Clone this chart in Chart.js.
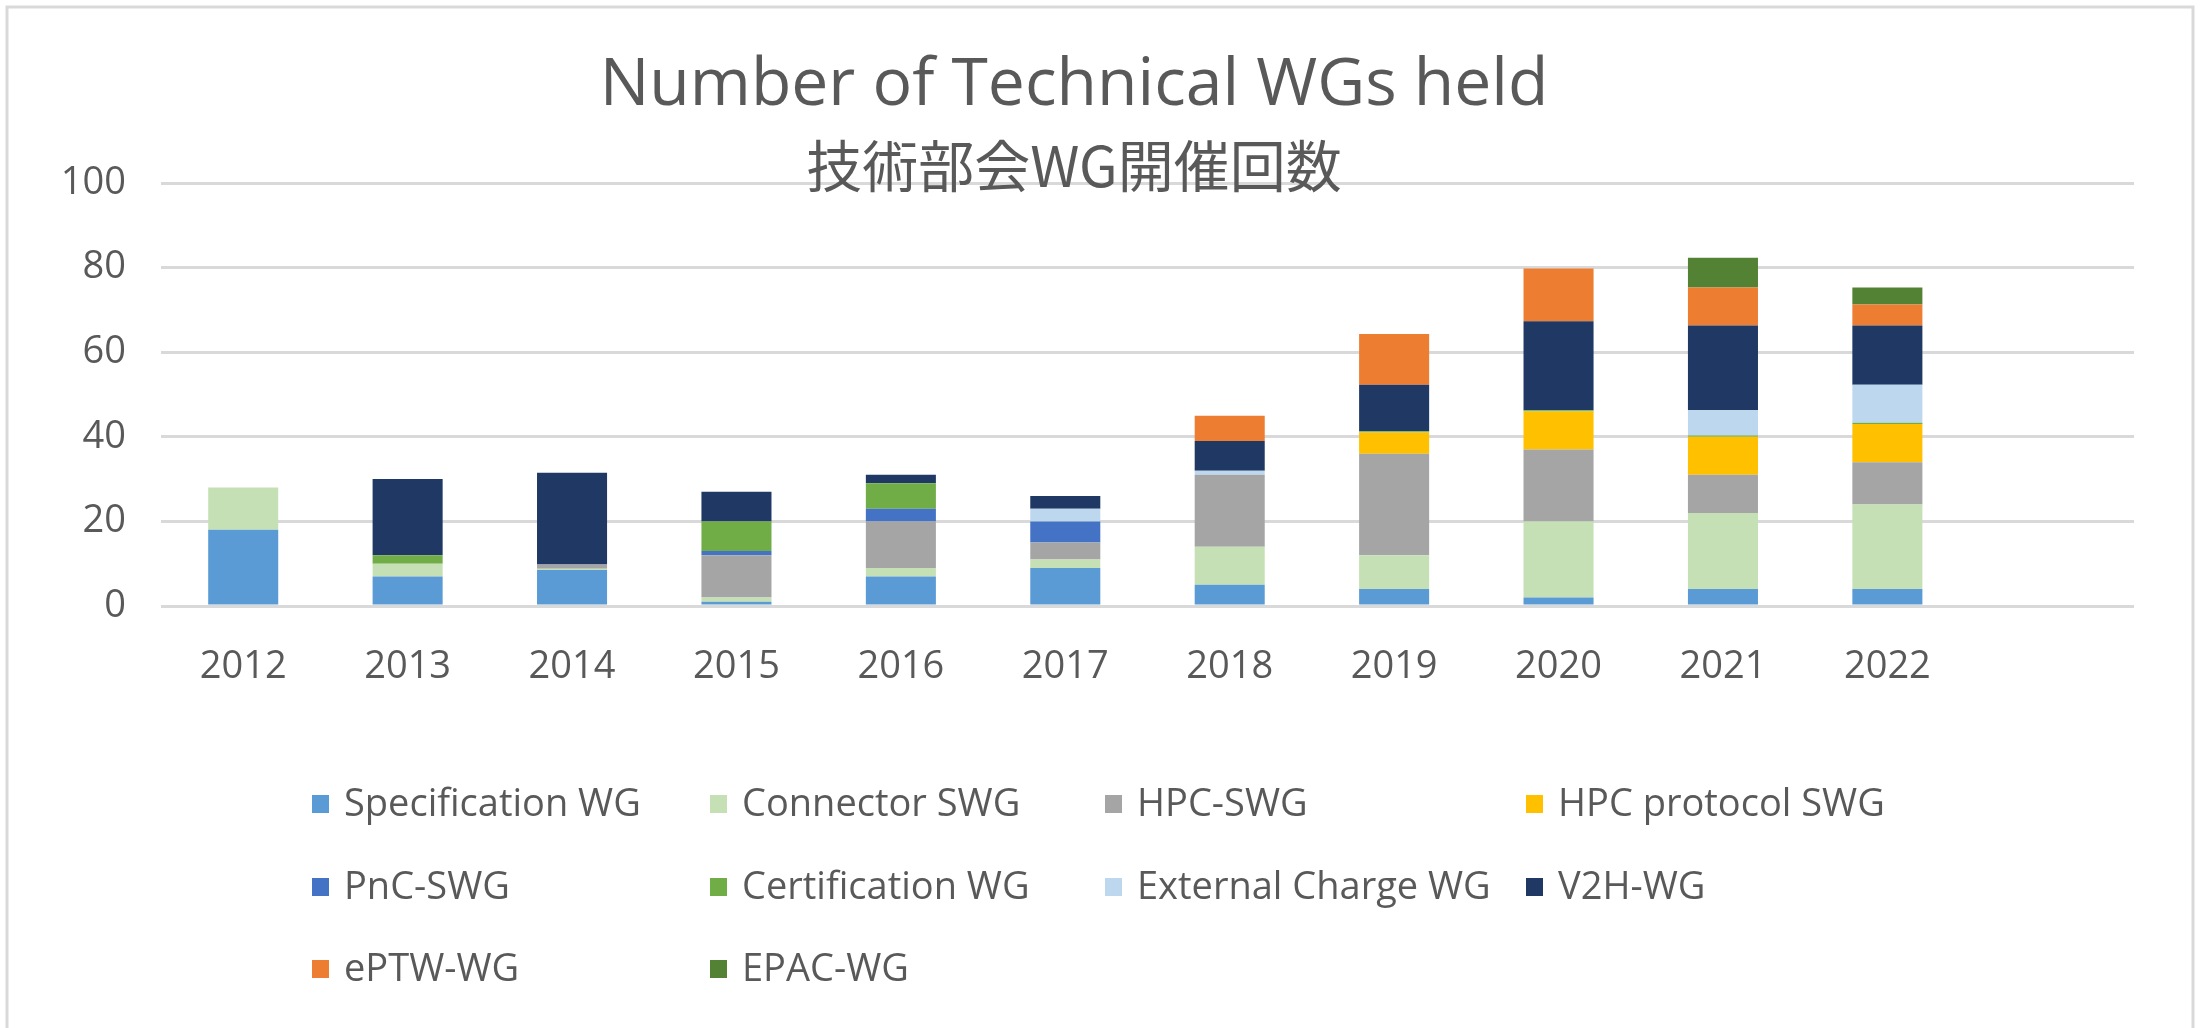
<!DOCTYPE html>
<html>
<head>
<meta charset="utf-8">
<title>Number of Technical WGs held</title>
<script src="https://cdn.jsdelivr.net/npm/chart.js@4.4.1/dist/chart.umd.min.js"></script>
<style>
  html, body { margin: 0; padding: 0; background: #fff; }
  canvas { display: block; }
</style>
</head>
<body>
<canvas id="wgChart" width="2201" height="1028"></canvas>
<script>
// categories (last slot is an empty category, as in the source sheet)
const years = ["2012", "2013", "2014", "2015", "2016", "2017", "2018", "2019", "2020", "2021", "2022", ""];

// meetings per year
const specificationWG = [18, 7, 8.5, 1, 7, 9, 5, 4, 2, 4, 4];
const connectorSWG = [10, 3, 0.3, 1, 2, 2, 9, 8, 18, 18, 20];
const hpcSWG = [0, 0, 1, 10, 11, 4, 17, 24, 17, 9, 10];
const hpcProtocolSWG = [0, 0, 0, 0, 0, 0, 0, 5, 9, 9, 9];
const pncSWG = [0, 0, 0, 1, 3, 5, 0, 0, 0, 0, 0];
const certificationWG = [0, 2, 0, 7, 6, 0, 0, 0.3, 0.3, 0.3, 0.3];
const externalChargeWG = [0, 0, 0, 0, 0, 3, 1, 0, 0, 6, 9];
const v2hWG = [0, 18, 21.7, 7, 2, 3, 7, 11, 21, 20, 14];
const eptwWG = [0, 0, 0, 0, 0, 0, 6, 12, 12.5, 9, 5];
const epacWG = [0, 0, 0, 0, 0, 0, 0, 0, 0, 7, 4];

const yTicks = [0, 20, 40, 60, 80, 100];

const TEXT = "#595959";
const GRID = "#D9D9D9";
const LATIN = "'Open Sans', 'Noto Sans', sans-serif";
const CJK = "'Noto Sans CJK JP', 'Open Sans', sans-serif";

const series = [
  { label: "Specification WG", data: specificationWG, color: "#5B9BD5" },
  { label: "Connector SWG", data: connectorSWG, color: "#C5E0B4" },
  { label: "HPC-SWG", data: hpcSWG, color: "#A5A5A5" },
  { label: "HPC protocol SWG", data: hpcProtocolSWG, color: "#FFC000" },
  { label: "PnC-SWG", data: pncSWG, color: "#4472C4" },
  { label: "Certification WG", data: certificationWG, color: "#70AD47" },
  { label: "External Charge WG", data: externalChargeWG, color: "#BDD7EE" },
  { label: "V2H-WG", data: v2hWG, color: "#203864" },
  { label: "ePTW-WG", data: eptwWG, color: "#ED7D31" },
  { label: "EPAC-WG", data: epacWG, color: "#548235" },
];

// outer frame + two-line title (title overlaps the top gridline like the excel one)
const framePlugin = {
  id: "frame",
  beforeDraw(chart) {
    const ctx = chart.ctx;
    ctx.save();
    ctx.fillStyle = "#fff";
    ctx.fillRect(0, 0, chart.width, chart.height);
    ctx.strokeStyle = GRID;
    ctx.lineWidth = 3;
    ctx.strokeRect(7, 7, chart.width - 15, chart.height + 50);
    ctx.restore();
  },
  afterDraw(chart) {
    const ctx = chart.ctx;
    ctx.save();
    ctx.fillStyle = TEXT;
    ctx.textAlign = "center";
    ctx.textBaseline = "middle";
    ctx.font = "66px " + LATIN;
    ctx.fillText("Number of Technical WGs held", 1074, 86);
    ctx.font = "56px " + CJK;
    ctx.fillText("技術部会WG開催回数", 1074, 166);
    ctx.restore();
  },
};

// excel style legend: fixed 4-column grid under the plot
const gridLegend = {
  id: "gridLegend",
  afterDraw(chart) {
    const colX = [312, 710, 1105, 1526];
    const rowY = [804, 887, 969];
    const ctx = chart.ctx;
    ctx.save();
    ctx.font = "38px " + LATIN;
    ctx.textBaseline = "middle";
    ctx.textAlign = "left";
    chart.data.datasets.forEach((ds, i) => {
      const x = colX[i % 4];
      const y = rowY[Math.floor(i / 4)];
      ctx.fillStyle = ds.backgroundColor;
      ctx.fillRect(x, y - 9, 17, 18);
      ctx.fillStyle = TEXT;
      ctx.fillText(ds.label, x + 32, y + 1);
    });
    ctx.restore();
  },
};

const ctx = document.getElementById("wgChart").getContext("2d");
new Chart(ctx, {
  type: "bar",
  data: {
    labels: years,
    datasets: series.map((s) => ({
      label: s.label,
      data: s.data,
      backgroundColor: s.color,
      borderWidth: 0,
      categoryPercentage: 1,
      barPercentage: 0.426,
    })),
  },
  options: {
    responsive: false,
    animation: false,
    layout: { padding: { left: 0, right: 67, top: 183, bottom: 0 } },
    plugins: {
      legend: { display: false },
      title: { display: false },
      tooltip: { enabled: false },
    },
    scales: {
      x: {
        stacked: true,
        grid: { display: false },
        border: { display: false },
        ticks: { color: TEXT, font: { family: LATIN, size: 38 }, padding: 30, maxRotation: 0 },
        afterFit: (s) => { s.height = 422; },
      },
      y: {
        stacked: true,
        min: 0,
        max: 100,
        afterBuildTicks: (s) => { s.ticks = yTicks.map((v) => ({ value: v })); },
        ticks: { color: TEXT, font: { family: LATIN, size: 38 }, padding: 35 },
        grid: { color: GRID, lineWidth: 3, drawTicks: false },
        border: { display: false },
        afterFit: (s) => { s.width = 161; },
      },
    },
  },
  plugins: [framePlugin, gridLegend],
});
</script>
</body>
</html>
